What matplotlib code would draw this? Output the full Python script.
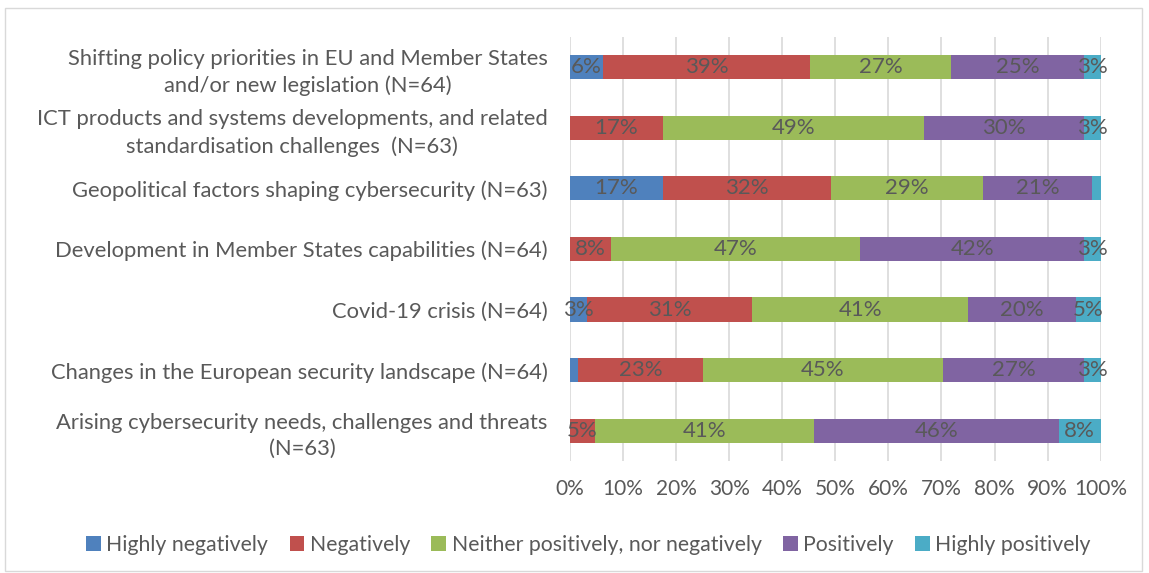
import matplotlib.pyplot as plt
import numpy as np
from matplotlib.patches import Rectangle

# categories (top to bottom)
categories = [
    "Shifting policy priorities in EU and Member States\nand/or new legislation (N=64)",
    "ICT products and systems developments, and related\nstandardisation challenges  (N=63)",
    "Geopolitical factors shaping cybersecurity (N=63)",
    "Development in Member States capabilities (N=64)",
    "Covid-19 crisis (N=64)",
    "Changes in the European security landscape (N=64)",
    "Arising cybersecurity needs, challenges and threats\n(N=63)",
]

# share of answers in %
highly_negatively = [6.25, 0.0, 17.46, 0.0, 3.13, 1.56, 0.0]
negatively = [39.06, 17.46, 31.75, 7.81, 31.25, 23.44, 4.76]
neither = [26.56, 49.21, 28.57, 46.88, 40.63, 45.31, 41.27]
positively = [25.00, 30.16, 20.63, 42.19, 20.31, 26.56, 46.03]
highly_positively = [3.13, 3.17, 1.59, 3.13, 4.69, 3.13, 7.94]

series_names = ["Highly negatively", "Negatively", "Neither positively, nor negatively",
                "Positively", "Highly positively"]
series_vals = [highly_negatively, negatively, neither, positively, highly_positively]
colors = ["#4F81BD", "#C0504D", "#9BBB59", "#8064A2", "#4BACC6"]

x_ticks = [0, 10, 20, 30, 40, 50, 60, 70, 80, 90, 100]
x_tick_labels = ["0%", "10%", "20%", "30%", "40%", "50%", "60%", "70%", "80%", "90%", "100%"]

grey = "#595959"
plt.rcParams['font.family'] = ['Lato', 'DejaVu Sans']

fig = plt.figure(figsize=(11.49, 5.73), dpi=100)
ax = fig.add_axes([0.496, 0.195, 0.462, 0.741])

y = np.arange(len(categories))
left = np.zeros(len(categories))
for name, vals, c in zip(series_names, series_vals, colors):
    vals = np.array(vals)
    ax.barh(y, vals, left=left, height=0.4, color=c, label=name, zorder=3)
    for yi, (l, v) in enumerate(zip(left, vals)):
        if v >= 2:
            ax.text(l + v / 2, yi, f"{v:.0f}%", ha='center', va='center',
                    fontsize=16, color=grey, zorder=4)
    left = left + vals

ax.set_xlim(0, 100)
ax.set_ylim(len(categories) - 0.5, -0.5)
ax.set_xticks(x_ticks)
ax.set_xticklabels(x_tick_labels, fontsize=15, color=grey)
ax.set_yticks(y)
ax.set_yticklabels(categories, fontsize=15.8, color=grey, multialignment='center',
                   linespacing=1.4)
ax.tick_params(axis='x', length=0, pad=13)
ax.tick_params(axis='y', length=0, pad=16)
ax.xaxis.grid(True, color="#D9D9D9", linewidth=1.2, zorder=0)
for s in ax.spines.values():
    s.set_visible(False)

fig.legend(loc='center', bbox_to_anchor=(0.512, 0.049), ncol=5, frameon=False,
           fontsize=15.3, labelcolor=grey, handlelength=0.7, handleheight=0.7,
           handletextpad=0.25, columnspacing=1.0)

# light frame around the chart
fig.patches.append(Rectangle((0.004, 0.004), 0.99, 0.982, transform=fig.transFigure,
                             fill=False, edgecolor="#D9D9D9", linewidth=1))

fig.savefig("out.png", dpi=100)
